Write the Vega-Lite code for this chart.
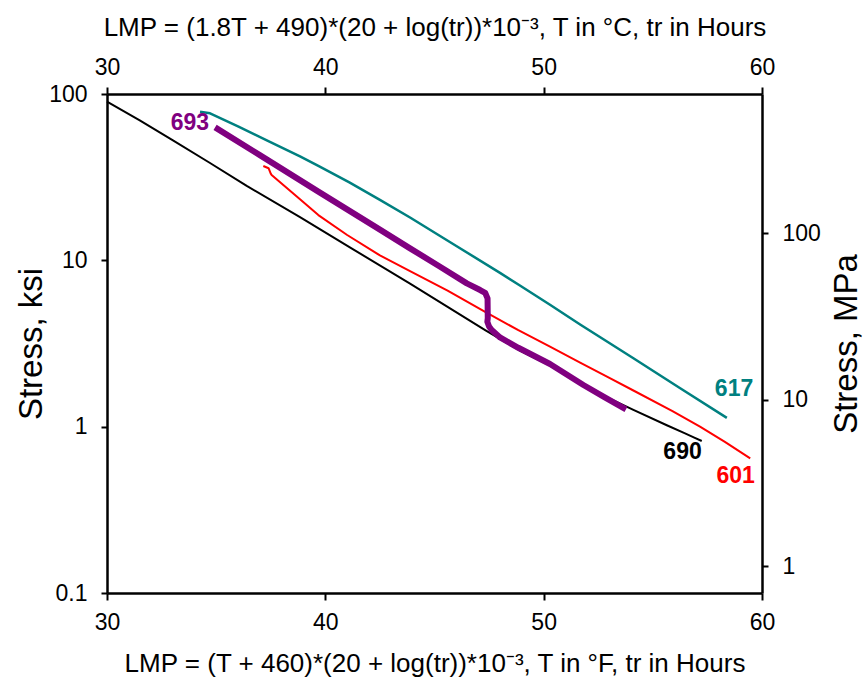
{
  "$schema": "https://vega.github.io/schema/vega-lite/v6.json",
  "autosize": "none",
  "width": 655,
  "height": 499,
  "padding": {"left": 107, "top": 94, "right": 106, "bottom": 88},
  "background": "white",
  "config": {
    "view": {"stroke": null},
    "axis": {
      "domainColor": "black", "domainWidth": 2.5, "tickColor": "black", "tickWidth": 2, "tickSize": 7,
      "labelFont": "Liberation Sans", "labelFontSize": 23, "labelColor": "black", "labelFlush": false, "labelOverlap": false,
      "titleFont": "Liberation Sans", "titleFontWeight": "normal", "titleColor": "black", "grid": false, "labelPadding": 8
    }
  },
  "datasets": {
    "curves": [
      {"series": "690", "LMP": 30.0, "ksi": 90},
      {"series": "690", "LMP": 31.5, "ksi": 69.5},
      {"series": "690", "LMP": 33.04, "ksi": 52.5},
      {"series": "690", "LMP": 34.7, "ksi": 38.6},
      {"series": "690", "LMP": 36.4, "ksi": 28.0},
      {"series": "690", "LMP": 38.84, "ksi": 18.2},
      {"series": "690", "LMP": 41.2, "ksi": 11.8},
      {"series": "690", "LMP": 43.88, "ksi": 7.25},
      {"series": "690", "LMP": 45.6, "ksi": 5.25},
      {"series": "690", "LMP": 47.32, "ksi": 3.81},
      {"series": "690", "LMP": 48.84, "ksi": 2.9},
      {"series": "690", "LMP": 50.29, "ksi": 2.33},
      {"series": "690", "LMP": 51.82, "ksi": 1.78},
      {"series": "690", "LMP": 53.0, "ksi": 1.48},
      {"series": "690", "LMP": 54.11, "ksi": 1.26},
      {"series": "690", "LMP": 55.64, "ksi": 1.02},
      {"series": "690", "LMP": 56.4, "ksi": 0.92},
      {"series": "690", "LMP": 56.9, "ksi": 0.86},
      {"series": "690", "LMP": 57.24, "ksi": 0.82},
      {"series": "601", "LMP": 37.16, "ksi": 36.9},
      {"series": "601", "LMP": 37.4, "ksi": 35.8},
      {"series": "601", "LMP": 37.5, "ksi": 33.2},
      {"series": "601", "LMP": 37.54, "ksi": 32.6},
      {"series": "601", "LMP": 38.84, "ksi": 23.3},
      {"series": "601", "LMP": 39.68, "ksi": 18.7},
      {"series": "601", "LMP": 41.0, "ksi": 14.2},
      {"series": "601", "LMP": 42.5, "ksi": 10.7},
      {"series": "601", "LMP": 43.88, "ksi": 8.61},
      {"series": "601", "LMP": 45.6, "ksi": 6.58},
      {"series": "601", "LMP": 47.32, "ksi": 4.9},
      {"series": "601", "LMP": 48.84, "ksi": 3.8},
      {"series": "601", "LMP": 50.29, "ksi": 3.03},
      {"series": "601", "LMP": 51.67, "ksi": 2.43},
      {"series": "601", "LMP": 52.9, "ksi": 2.0},
      {"series": "601", "LMP": 54.11, "ksi": 1.65},
      {"series": "601", "LMP": 55.9, "ksi": 1.24},
      {"series": "601", "LMP": 57.16, "ksi": 1.0},
      {"series": "601", "LMP": 58.3, "ksi": 0.81},
      {"series": "601", "LMP": 59.46, "ksi": 0.645},
      {"series": "617", "LMP": 34.26, "ksi": 78.3},
      {"series": "617", "LMP": 34.72, "ksi": 76.6},
      {"series": "617", "LMP": 36.0, "ksi": 63.8},
      {"series": "617", "LMP": 37.32, "ksi": 52.7},
      {"series": "617", "LMP": 38.84, "ksi": 42.2},
      {"series": "617", "LMP": 39.68, "ksi": 37.0},
      {"series": "617", "LMP": 41.1, "ksi": 29.4},
      {"series": "617", "LMP": 42.5, "ksi": 23.1},
      {"series": "617", "LMP": 43.88, "ksi": 18.1},
      {"series": "617", "LMP": 46.0, "ksi": 12.2},
      {"series": "617", "LMP": 48.0, "ksi": 8.41},
      {"series": "617", "LMP": 48.84, "ksi": 7.16},
      {"series": "617", "LMP": 50.29, "ksi": 5.41},
      {"series": "617", "LMP": 51.67, "ksi": 4.11},
      {"series": "617", "LMP": 52.9, "ksi": 3.25},
      {"series": "617", "LMP": 54.11, "ksi": 2.58},
      {"series": "617", "LMP": 56.2, "ksi": 1.72},
      {"series": "617", "LMP": 58.39, "ksi": 1.13},
      {"series": "693", "LMP": 34.95, "ksi": 63},
      {"series": "693", "LMP": 37.0, "ksi": 42.9},
      {"series": "693", "LMP": 39.68, "ksi": 25.9},
      {"series": "693", "LMP": 42.5, "ksi": 15.3},
      {"series": "693", "LMP": 43.88, "ksi": 11.8},
      {"series": "693", "LMP": 45.2, "ksi": 9.25},
      {"series": "693", "LMP": 46.48, "ksi": 7.27},
      {"series": "693", "LMP": 47.09, "ksi": 6.63},
      {"series": "693", "LMP": 47.32, "ksi": 6.38},
      {"series": "693", "LMP": 47.43, "ksi": 5.9},
      {"series": "693", "LMP": 47.44, "ksi": 4.5},
      {"series": "693", "LMP": 47.42, "ksi": 4.27},
      {"series": "693", "LMP": 47.5, "ksi": 4.0},
      {"series": "693", "LMP": 47.62, "ksi": 3.81},
      {"series": "693", "LMP": 48.0, "ksi": 3.44},
      {"series": "693", "LMP": 48.84, "ksi": 2.98},
      {"series": "693", "LMP": 50.29, "ksi": 2.38},
      {"series": "693", "LMP": 51.82, "ksi": 1.78},
      {"series": "693", "LMP": 52.8, "ksi": 1.5},
      {"series": "693", "LMP": 53.77, "ksi": 1.27}
    ],
    "labels": [
      {"series": "693", "LMP": 33.8, "ksi": 66.7},
      {"series": "617", "LMP": 58.72, "ksi": 1.68},
      {"series": "690", "LMP": 56.36, "ksi": 0.706},
      {"series": "601", "LMP": 58.79, "ksi": 0.505}
    ],
    "mpa": [
      {"LMP": 30, "MPa": 1},
      {"LMP": 60, "MPa": 100}
    ]
  },
  "layer": [
    {
      "data": {"name": "curves"},
      "transform": [{"filter": "datum.series === '690'"}],
      "mark": {"type": "line", "strokeJoin": "round", "color": "#000000", "strokeWidth": 2},
      "encoding": {
        "x": {"field": "LMP", "type": "quantitative",
              "scale": {"domain": [30, 60], "nice": false, "zero": false},
              "axis": {"orient": "bottom", "values": [30, 40, 50, 60],
                       "title": "LMP = (T + 460)*(20 + log(tr))*10⁻³, T in °F, tr in Hours",
                       "titleFontSize": 26, "labelPadding": 11, "titlePadding": 16}},
        "y": {"field": "ksi", "type": "quantitative",
              "scale": {"type": "log", "domain": [0.1, 100], "nice": false},
              "axis": {"orient": "left", "values": [0.1, 1, 10, 100], "format": "~g",
                       "title": "Stress, ksi", "titleFontSize": 33, "tickSize": 6,
                       "labelPadding": 14, "titlePadding": 0}},
        "order": {"value": null}
      }
    },
    {
      "data": {"name": "curves"},
      "transform": [{"filter": "datum.series === '601'"}],
      "mark": {"type": "line", "strokeJoin": "round", "color": "#ff0000", "strokeWidth": 2},
      "encoding": {
        "x": {"field": "LMP", "type": "quantitative",
              "scale": {"domain": [30, 60], "nice": false, "zero": false}, "axis": null},
        "y": {"field": "ksi", "type": "quantitative",
              "scale": {"type": "log", "domain": [0.1, 100], "nice": false}, "axis": null},
        "order": {"value": null}
      }
    },
    {
      "data": {"name": "curves"},
      "transform": [{"filter": "datum.series === '617'"}],
      "mark": {"type": "line", "strokeJoin": "round", "color": "#008080", "strokeWidth": 2.5},
      "encoding": {
        "x": {"field": "LMP", "type": "quantitative",
              "scale": {"domain": [30, 60], "nice": false, "zero": false}, "axis": null},
        "y": {"field": "ksi", "type": "quantitative",
              "scale": {"type": "log", "domain": [0.1, 100], "nice": false}, "axis": null},
        "order": {"value": null}
      }
    },
    {
      "data": {"name": "curves"},
      "transform": [{"filter": "datum.series === '693'"}],
      "mark": {"type": "line", "strokeJoin": "round", "color": "#800080", "strokeWidth": 6},
      "encoding": {
        "x": {"field": "LMP", "type": "quantitative",
              "scale": {"domain": [30, 60], "nice": false, "zero": false}, "axis": null},
        "y": {"field": "ksi", "type": "quantitative",
              "scale": {"type": "log", "domain": [0.1, 100], "nice": false}, "axis": null},
        "order": {"value": null}
      }
    },
    {
      "data": {"name": "labels"},
      "mark": {"type": "text", "font": "Liberation Sans", "fontWeight": "bold", "fontSize": 23,
               "align": "center", "baseline": "middle"},
      "encoding": {
        "x": {"field": "LMP", "type": "quantitative",
              "scale": {"domain": [30, 60], "nice": false, "zero": false}, "axis": null},
        "y": {"field": "ksi", "type": "quantitative",
              "scale": {"type": "log", "domain": [0.1, 100], "nice": false}, "axis": null},
        "text": {"field": "series"},
        "color": {"field": "series", "type": "nominal",
                  "scale": {"domain": ["690", "601", "617", "693"],
                            "range": ["#000000", "#ff0000", "#008080", "#800080"]},
                  "legend": null}
      }
    },
    {
      "data": {"name": "mpa"},
      "mark": {"type": "point", "opacity": 0},
      "encoding": {
        "x": {"field": "LMP", "type": "quantitative",
              "scale": {"domain": [30, 60], "nice": false, "zero": false},
              "axis": {"orient": "top", "values": [30, 40, 50, 60],
                       "title": "LMP = (1.8T + 490)*(20 + log(tr))*10⁻³, T in °C, tr in Hours",
                       "titleFontSize": 26, "titlePadding": 16}},
        "y": {"field": "MPa", "type": "quantitative",
              "scale": {"type": "log", "domain": [0.6895, 689.5], "nice": false},
              "axis": {"orient": "right", "values": [1, 10, 100], "format": "~g",
                       "title": "Stress, MPa", "titleFontSize": 33, "titleAngle": 270,
                       "tickSize": 6, "labelPadding": 14, "titlePadding": 43}}
      }
    }
  ],
  "resolve": {"scale": {"y": "independent"}, "axis": {"x": "independent", "y": "independent"}}
}
